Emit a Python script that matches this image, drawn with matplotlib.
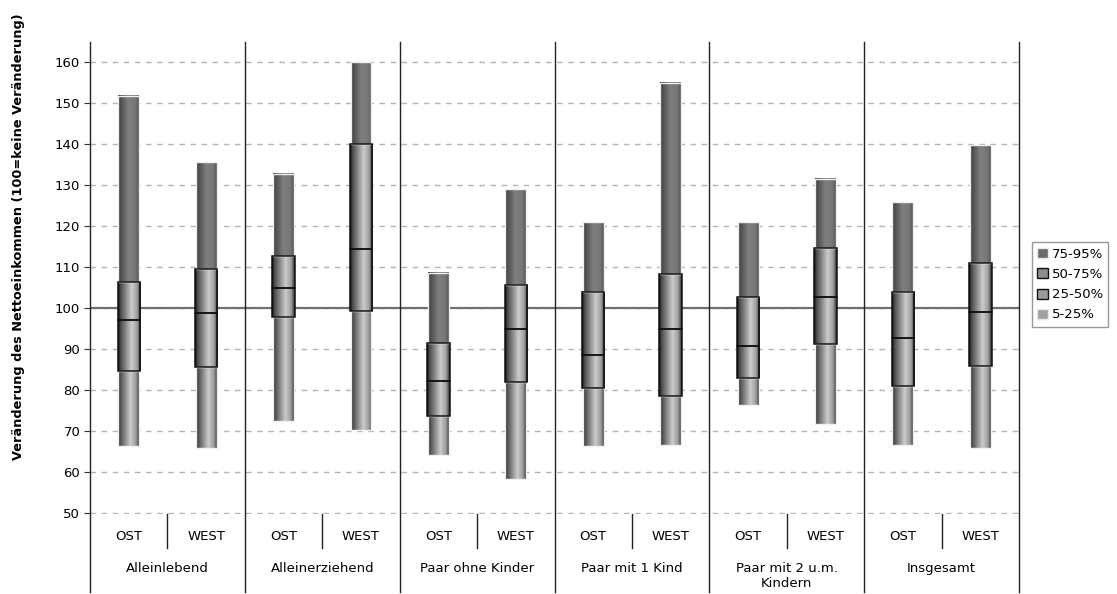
import matplotlib.pyplot as plt
import numpy as np
from matplotlib.patches import Patch

groups = ["Alleinlebend", "Alleinerziehend", "Paar ohne Kinder", "Paar mit 1 Kind",
          "Paar mit 2 u.m.\nKindern", "Insgesamt"]
regions = ["OST", "WEST"]

# percentile values per bar (OST, WEST for each group)
p5 = [66.4, 65.8, 72.5, 70.3, 64.1, 58.3, 66.3, 66.7, 76.4, 71.7, 66.7, 65.9]
p25 = [84.7, 85.7, 98.0, 99.3, 73.8, 82.0, 80.5, 78.5, 82.9, 91.3, 81.1, 85.9]
p50 = [97.2, 98.9, 104.9, 114.5, 82.3, 94.9, 88.5, 95.0, 90.9, 102.7, 92.8, 99.2]
p75 = [106.3, 109.5, 112.7, 140.0, 91.5, 105.7, 104.1, 108.3, 102.8, 114.6, 104.1, 111.1]
p95 = [151.9, 135.6, 132.8, 160.0, 108.7, 129.1, 121.0, 155.0, 121.0, 131.5, 125.9, 139.8]

legend_labels = ["75-95%", "50-75%", "25-50%", "5-25%"]


def shade(pts, vals, n=24):
    t = np.linspace(0, 1, n)
    g = np.interp(t, pts, vals)
    return np.repeat(g[None, :, None], 3, axis=2)


grad_top = shade([0, 0.1, 0.5, 0.85, 1], [0.2, 0.3, 0.5, 0.46, 0.34])
grad_mid = shade([0, 0.1, 0.6, 0.85, 1], [0.08, 0.3, 0.8, 0.62, 0.2])
grad_low = shade([0, 0.1, 0.6, 0.88, 1], [0.1, 0.32, 0.8, 0.6, 0.3])


def seg(ax, x, y0, y1, w, img, edge, lw):
    ax.imshow(img, extent=[x - w / 2, x + w / 2, y0, y1], aspect="auto",
              interpolation="bilinear", zorder=3)
    ax.bar(x, y1 - y0, bottom=y0, width=w, fill=False, edgecolor=edge,
           linewidth=lw, zorder=4)


fig = plt.figure(figsize=(11.17, 5.94), dpi=100)
ax = fig.add_axes([0.0806, 0.1347, 0.8317, 0.7946])

x = np.arange(len(p5))
for i in x:
    seg(ax, i, p5[i], p25[i], 0.27, grad_low, "#f0f0f0", 1.0)
    seg(ax, i, p75[i], p95[i], 0.27, grad_top, "#f0f0f0", 1.0)
    seg(ax, i, p25[i], p50[i], 0.29, grad_mid, "#111111", 1.1)
    seg(ax, i, p50[i], p75[i], 0.29, grad_mid, "#111111", 1.1)

ax.set_xlim(-0.5, len(p5) - 0.5)
ax.set_ylim(49.8, 165)
ax.set_yticks(np.arange(50, 161, 10))
ax.yaxis.grid(True, linestyle=(0, (4, 4)), color="#b4b4b4", linewidth=1.0)
ax.set_axisbelow(True)
ax.axhline(100, color="#707070", linewidth=1.6, zorder=2)

for s in ["top", "bottom", "right", "left"]:
    ax.spines[s].set_visible(False)

ax.tick_params(axis="y", labelsize=9.5, length=4, color="#333333", pad=3)
ax.set_xticks(x, regions * len(groups))
ax.tick_params(axis="x", length=0, labelsize=9.5, pad=16)
for lab in ax.get_xticklabels():
    lab.set_verticalalignment("center")

trans = ax.get_xaxis_transform()
h_px = 0.7946 * 594
for g in range(len(groups) + 1):
    xs = 2 * g - 0.5
    ax.plot([xs, xs], [1, -78 / h_px], color="#222222", linewidth=1.0,
            transform=trans, clip_on=False, zorder=5)
for g in range(len(groups)):
    xs = 2 * g + 0.5
    ax.plot([xs, xs], [0, -34 / h_px], color="#222222", linewidth=1.0,
            transform=trans, clip_on=False)
    ax.text(2 * g + 0.5, -48 / h_px, groups[g], transform=trans, ha="center",
            va="top", fontsize=9.5, linespacing=1.2)

ax.set_ylabel("Veränderung des Nettoeinkommen (100=keine Veränderung)",
              fontsize=9.3, fontweight="bold")
ax.yaxis.set_label_coords(-0.070, 0.587)

handles = [Patch(facecolor="#6a6a6a", edgecolor="#e8e8e8"),
           Patch(facecolor="#8c8c8c", edgecolor="#111111"),
           Patch(facecolor="#9a9a9a", edgecolor="#111111"),
           Patch(facecolor="#a0a0a0", edgecolor="#e8e8e8")]
leg = fig.legend(handles, legend_labels, loc="upper left",
                 bbox_to_anchor=(0.924, 0.592), fontsize=9.5, fancybox=False,
                 edgecolor="#808080", handlelength=0.8, handleheight=0.8,
                 handletextpad=0.3, borderpad=0.4, labelspacing=0.55,
                 borderaxespad=0)
leg.get_frame().set_linewidth(1.0)

fig.savefig("out.png", dpi=100)
